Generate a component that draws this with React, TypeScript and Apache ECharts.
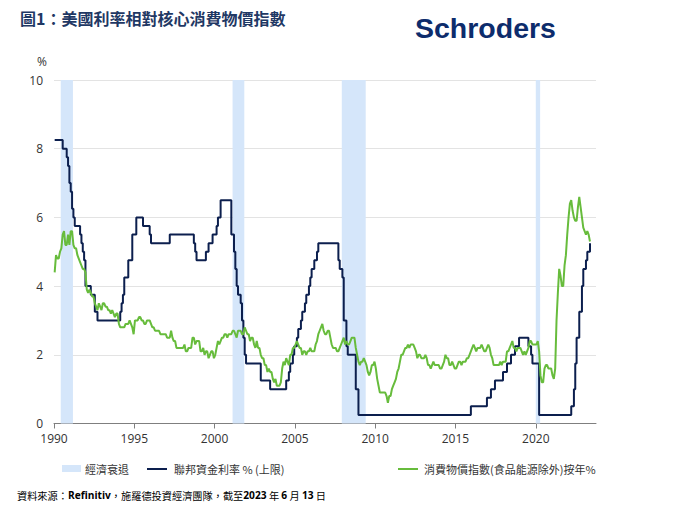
import React, { useEffect, useRef } from "react";
import * as echarts from "echarts";

const yearTicks = [1990, 1995, 2000, 2005, 2010, 2015, 2020];

const recessionStart = [1990.42, 2001.12, 2007.92, 2020.0];
const recessionEnd = [1991.18, 2001.85, 2009.41, 2020.27];

const fedChangeMonths = [
  "1990-01", "1990-07", "1990-10", "1990-11", "1990-12", "1991-01", "1991-02", "1991-03", "1991-04",
  "1991-08", "1991-09", "1991-10", "1991-11", "1991-12", "1992-04", "1992-07", "1992-09",
  "1994-02", "1994-03", "1994-04", "1994-05", "1994-08", "1994-11", "1995-02", "1995-07",
  "1995-12", "1996-01", "1997-03", "1998-09", "1998-10", "1998-11", "1999-06", "1999-08",
  "1999-11", "2000-02", "2000-03", "2000-05", "2001-01", "2001-03", "2001-04", "2001-05",
  "2001-06", "2001-08", "2001-09", "2001-10", "2001-11", "2001-12", "2002-11", "2003-06",
  "2004-06", "2004-08", "2004-09", "2004-11", "2004-12", "2005-02", "2005-03", "2005-05",
  "2005-06", "2005-08", "2005-09", "2005-11", "2005-12", "2006-01", "2006-03", "2006-05",
  "2006-06", "2007-09", "2007-10", "2007-12", "2008-01", "2008-03", "2008-04", "2008-10",
  "2008-12", "2015-12", "2016-12", "2017-03", "2017-06", "2017-12", "2018-03", "2018-06",
  "2018-09", "2018-12", "2019-07", "2019-09", "2019-10", "2020-03", "2022-03", "2022-05",
  "2022-06", "2022-07", "2022-09", "2022-11", "2022-12", "2023-02", "2023-03", "2023-05",
];
const fedRates = [
  8.25, 8.0, 7.75, 7.5, 7.0, 6.75, 6.25, 6.0, 5.75,
  5.5, 5.25, 5.0, 4.75, 4.0, 3.75, 3.25, 3.0,
  3.25, 3.5, 3.75, 4.25, 4.75, 5.5, 6.0, 5.75,
  5.5, 5.25, 5.5, 5.25, 5.0, 4.75, 5.0, 5.25,
  5.5, 5.75, 6.0, 6.5, 5.5, 5.0, 4.5, 4.0,
  3.75, 3.5, 3.0, 2.5, 2.0, 1.75, 1.25, 1.0,
  1.25, 1.5, 1.75, 2.0, 2.25, 2.5, 2.75, 3.0,
  3.25, 3.5, 3.75, 4.0, 4.25, 4.5, 4.75, 5.0,
  5.25, 4.75, 4.5, 4.25, 3.0, 2.25, 2.0, 1.0,
  0.25, 0.5, 0.75, 1.0, 1.25, 1.5, 1.75, 2.0,
  2.25, 2.5, 2.25, 2.0, 1.75, 0.25, 0.5, 1.0,
  1.75, 2.5, 3.25, 4.0, 4.5, 4.75, 5.0, 5.25,
];

// core CPI y/y, monthly from Jan of the first year
const cpi1990s = [
  4.4, 4.9, 4.8, 4.8, 5.0, 5.1, 5.5, 5.6, 5.2, 5.2, 5.5, 5.2,
  5.6, 5.6, 5.2, 5.1, 5.1, 4.9, 4.8, 4.7, 4.6, 4.5, 4.5, 4.4,
  3.9, 3.8, 3.9, 3.8, 3.7, 3.7, 3.5, 3.4, 3.3, 3.5, 3.4, 3.3,
  3.5, 3.5, 3.4, 3.4, 3.3, 3.3, 3.2, 3.3, 3.2, 3.1, 3.2, 3.2,
  2.9, 2.8, 2.8, 2.8, 2.8, 2.9, 2.9, 2.9, 3.0, 2.9, 2.8, 2.6,
  3.0, 3.0, 3.0, 3.1, 3.1, 3.0, 3.0, 2.9, 2.9, 3.0, 3.0, 3.0,
  2.9, 2.8, 2.8, 2.7, 2.7, 2.7, 2.7, 2.6, 2.6, 2.6, 2.6, 2.6,
  2.5, 2.5, 2.5, 2.7, 2.5, 2.4, 2.4, 2.2, 2.2, 2.2, 2.2, 2.2,
  2.2, 2.3, 2.1, 2.1, 2.2, 2.2, 2.2, 2.5, 2.5, 2.3, 2.4, 2.4,
  2.4, 2.1, 2.1, 2.2, 2.0, 2.1, 2.1, 1.9, 2.0, 2.1, 2.1, 1.9,
];
const cpi2000s = [
  2.0, 2.2, 2.4, 2.3, 2.4, 2.5, 2.5, 2.6, 2.6, 2.5, 2.6, 2.6,
  2.6, 2.7, 2.7, 2.6, 2.5, 2.7, 2.7, 2.7, 2.6, 2.6, 2.8, 2.7,
  2.6, 2.6, 2.4, 2.5, 2.5, 2.3, 2.2, 2.4, 2.2, 2.2, 2.0, 1.9,
  1.9, 1.7, 1.7, 1.5, 1.6, 1.5, 1.5, 1.3, 1.2, 1.3, 1.1, 1.1,
  1.1, 1.2, 1.6, 1.8, 1.7, 1.9, 1.8, 1.7, 2.0, 2.0, 2.2, 2.2,
  2.3, 2.4, 2.3, 2.2, 2.2, 2.0, 2.1, 2.1, 2.0, 2.1, 2.1, 2.2,
  2.1, 2.1, 2.1, 2.3, 2.4, 2.6, 2.7, 2.8, 2.9, 2.7, 2.6, 2.6,
  2.7, 2.7, 2.5, 2.3, 2.2, 2.2, 2.2, 2.1, 2.1, 2.2, 2.3, 2.4,
  2.5, 2.3, 2.4, 2.3, 2.3, 2.4, 2.5, 2.5, 2.5, 2.2, 2.0, 1.8,
  1.7, 1.8, 1.8, 1.9, 1.8, 1.7, 1.5, 1.4, 1.5, 1.7, 1.7, 1.8,
];
const cpi2010s = [
  1.6, 1.3, 1.1, 0.9, 0.9, 0.9, 0.9, 0.9, 0.8, 0.6, 0.8, 0.8,
  1.0, 1.1, 1.2, 1.3, 1.5, 1.6, 1.8, 2.0, 2.0, 2.1, 2.2, 2.2,
  2.3, 2.2, 2.3, 2.3, 2.3, 2.2, 2.1, 1.9, 2.0, 2.0, 1.9, 1.9,
  1.9, 2.0, 1.9, 1.7, 1.7, 1.6, 1.7, 1.8, 1.7, 1.7, 1.7, 1.7,
  1.6, 1.6, 1.7, 1.8, 2.0, 1.9, 1.9, 1.7, 1.7, 1.8, 1.7, 1.6,
  1.6, 1.7, 1.8, 1.8, 1.7, 1.8, 1.8, 1.8, 1.9, 1.9, 2.0, 2.1,
  2.2, 2.3, 2.2, 2.1, 2.2, 2.2, 2.2, 2.3, 2.2, 2.1, 2.1, 2.2,
  2.3, 2.2, 2.0, 1.9, 1.7, 1.7, 1.7, 1.7, 1.7, 1.8, 1.7, 1.8,
  1.8, 1.8, 2.1, 2.1, 2.2, 2.3, 2.4, 2.2, 2.2, 2.1, 2.2, 2.2,
  2.2, 2.1, 2.0, 2.1, 2.0, 2.1, 2.2, 2.4, 2.4, 2.3, 2.3, 2.3,
];
const cpi2020s = [
  2.3, 2.4, 2.1, 1.4, 1.2, 1.2, 1.6, 1.7, 1.7, 1.6, 1.6, 1.6,
  1.4, 1.3, 1.6, 3.0, 3.8, 4.5, 4.3, 4.0, 4.0, 4.6, 4.9, 5.5,
  6.0, 6.4, 6.5, 6.2, 6.0, 5.9, 5.9, 6.3, 6.6, 6.3, 6.0, 5.7,
  5.6, 5.5, 5.6, 5.5, 5.3,
];

const NAVY = "#0c1f4e";
const GREEN = "#67bc3c";
const BAND = "#d5e6fa";
const NAME_REC = "經濟衰退";
const NAME_FED = "聯邦資金利率 % (上限)";
const NAME_CPI = "消費物價指數(食品能源除外)按年%";

const monthToYear = (s: string) => {
  const [y, m] = s.split("-").map(Number);
  return y + (m - 0.5) / 12;
};

export default function App() {
  const ref = useRef<HTMLDivElement>(null);

  useEffect(() => {
    if (!ref.current) return;
    const chart = echarts.init(ref.current, null, { renderer: "svg" });

    const cpiAll = [...cpi1990s, ...cpi2000s, ...cpi2010s, ...cpi2020s];
    const cpiData = cpiAll.map((v, i) => [1990 + (i + 0.5) / 12, v]);
    const fedData = fedChangeMonths.map((m, i) => [monthToYear(m), fedRates[i]]);
    const bands = recessionStart.map((s, i) => [{ xAxis: s }, { xAxis: recessionEnd[i] }]);

    const cjk = "'Noto Sans CJK TC', 'Noto Sans', sans-serif";

    chart.setOption({
      animation: false,
      textStyle: { fontFamily: "'Open Sans', 'Noto Sans CJK TC', sans-serif" },
      grid: { left: 54, right: 104, top: 80, bottom: 88.5, containLabel: false },
      xAxis: {
        type: "value",
        min: 1990,
        max: 2023.75,
        axisLine: { lineStyle: { color: "#7f7f7f", width: 1 } },
        axisTick: { show: true, length: 5, lineStyle: { color: "#7f7f7f" }, customValues: yearTicks },
        axisLabel: {
          customValues: yearTicks,
          color: "#333",
          fontSize: 12,
          margin: 9,
          formatter: (v: number) => (v % 5 === 0 ? String(v) : ""),
        },
        splitLine: { show: false },
      },
      yAxis: {
        type: "value",
        min: 0,
        max: 10,
        interval: 2,
        axisLine: { show: false },
        axisTick: { show: false },
        axisLabel: { color: "#333", fontSize: 12, margin: 11 },
        splitLine: { lineStyle: { color: "#e3e3e3", width: 1 } },
      },
      series: [
        {
          type: "line",
          name: NAME_REC,
          data: [],
          z: 1,
          silent: true,
          markArea: { silent: true, itemStyle: { color: BAND }, data: bands },
        },
        {
          type: "line",
          name: NAME_FED,
          data: fedData,
          step: "end",
          symbol: "none",
          z: 3,
          lineStyle: { color: NAVY, width: 2 },
        },
        {
          type: "line",
          name: NAME_CPI,
          data: cpiData,
          symbol: "none",
          z: 4,
          lineStyle: { color: GREEN, width: 2 },
        },
      ],
      graphic: [
        {
          type: "text",
          left: 20,
          top: 10,
          style: {
            text: "圖1：美國利率相對核心消費物價指數",
            font: `bold 16px ${cjk}`,
            fill: "#1f3864",
          },
        },
        {
          type: "text",
          x: 415,
          y: 28,
          style: {
            text: "Schroders",
            font: "bold 28.5px 'Liberation Sans', Arial, sans-serif",
            fill: "#0d2c6c",
            verticalAlign: "middle",
          },
        },
        {
          type: "text",
          x: 42,
          y: 61,
          style: { text: "%", font: "12px 'Open Sans', sans-serif", fill: "#333", align: "center", verticalAlign: "middle" },
        },
        { type: "rect", shape: { x: 62, y: 465, width: 19, height: 7 }, style: { fill: BAND } },
        {
          type: "text",
          x: 85,
          y: 469,
          style: { text: NAME_REC, font: `11px ${cjk}`, fill: "#333", verticalAlign: "middle" },
        },
        { type: "line", shape: { x1: 147, y1: 469, x2: 167, y2: 469 }, style: { stroke: NAVY, lineWidth: 2 } },
        {
          type: "text",
          x: 174,
          y: 469,
          style: { text: NAME_FED, font: `11px ${cjk}`, fill: "#333", verticalAlign: "middle" },
        },
        { type: "line", shape: { x1: 398, y1: 469, x2: 418, y2: 469 }, style: { stroke: GREEN, lineWidth: 2 } },
        {
          type: "text",
          x: 424,
          y: 469,
          style: { text: NAME_CPI, font: `11px ${cjk}`, fill: "#333", verticalAlign: "middle" },
        },
        {
          type: "text",
          x: 17,
          y: 495,
          style: {
            text: "資料來源：{b|Refinitiv}，施羅德投資經濟團隊，截至{b|2023} 年 {b|6} 月 {b|13} 日",
            font: `10.2px ${cjk}`,
            fill: "#000",
            verticalAlign: "middle",
            rich: {
              b: { fontWeight: "bold", fontSize: 10.2, fontFamily: "'Open Sans', sans-serif", fill: "#000" },
            },
          },
        },
      ],
    });

    return () => chart.dispose();
  }, []);

  return <div ref={ref} style={{ position: "absolute", left: 0, top: 0, width: 700, height: 512 }} />;
}
